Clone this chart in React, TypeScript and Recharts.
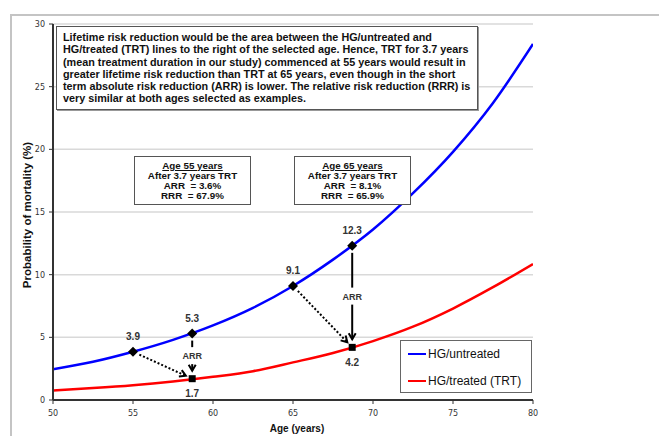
import React from 'react';
import { ComposedChart, Line, Scatter, XAxis, YAxis, CartesianGrid, ReferenceLine } from 'recharts';

const ages = [50, 52.5, 55, 57.5, 60, 62.5, 65, 67.5, 70, 72.5, 75, 77.5, 80];
const untreated = [2.45, 3.05, 3.85, 4.8, 5.95, 7.35, 9.1, 11.2, 13.6, 16.5, 19.8, 23.7, 28.4];
const treated = [0.76, 0.95, 1.18, 1.48, 1.85, 2.3, 3.0, 3.75, 4.7, 5.85, 7.3, 9.0, 10.85];

const untreatedMarkerAges = [55, 58.7, 65, 68.7];
const untreatedMarkerValues = [3.85, 5.3, 9.1, 12.3];
const untreatedMarkerLabels = ['3.9', '5.3', '9.1', '12.3'];
const treatedMarkerAges = [58.7, 68.7];
const treatedMarkerValues = [1.7, 4.2];
const treatedMarkerLabels = ['1.7', '4.2'];

const xTicks = [50, 55, 60, 65, 70, 75, 80];
const yTicks = [0, 5, 10, 15, 20, 25, 30];

const noteLines = [
  'Lifetime risk reduction would be the area between the HG/untreated and',
  'HG/treated (TRT) lines to the right of the selected age. Hence, TRT for 3.7 years',
  '(mean treatment duration in our study) commenced at 55 years would result in',
  'greater lifetime risk reduction than TRT at 65 years, even though in the short',
  'term absolute risk reduction (ARR) is lower. The relative risk reduction (RRR) is',
  'very similar at both ages selected as examples.',
];
const box55 = ['Age 55 years', 'After 3.7 years TRT', 'ARR  = 3.6%', 'RRR  = 67.9%'];
const box65 = ['Age 65 years', 'After 3.7 years TRT', 'ARR  = 8.1%', 'RRR  = 65.9%'];

const seriesNames = ['HG/untreated', 'HG/treated (TRT)'];
const seriesColors = ['#0000ff', '#ff0000'];

const tableData = ages.map((a, i) => ({ age: a, untreated: untreated[i], treated: treated[i] }));
const uMarkers = untreatedMarkerAges.map((a, i) => ({ age: a, v: untreatedMarkerValues[i], label: untreatedMarkerLabels[i] }));
const tMarkers = treatedMarkerAges.map((a, i) => ({ age: a, v: treatedMarkerValues[i], label: treatedMarkerLabels[i] }));

const LABEL_FONT = 'Liberation Sans, Arial, sans-serif';

const Diamond = (props: any) => {
  const { cx, cy, payload } = props;
  if (cx == null || cy == null) return null;
  const r = 5;
  return (
    <g>
      <polygon points={`${cx},${cy - r} ${cx + r},${cy} ${cx},${cy + r} ${cx - r},${cy}`} fill="#000" />
      <text x={cx} y={cy - 15} textAnchor="middle" dominantBaseline="central" fontSize={10} fontWeight="bold" fill="#333" fontFamily={LABEL_FONT}>
        {payload.label}
      </text>
    </g>
  );
};

const Square = (props: any) => {
  const { cx, cy, payload } = props;
  if (cx == null || cy == null) return null;
  const r = 3.5;
  return (
    <g>
      <rect x={cx - r} y={cy - r} width={2 * r} height={2 * r} fill="#000" />
      <text x={cx} y={cy + 15} textAnchor="middle" dominantBaseline="central" fontSize={10} fontWeight="bold" fill="#333" fontFamily={LABEL_FONT}>
        {payload.label}
      </text>
    </g>
  );
};

const chevron = (tx: number, ty: number, ux: number, uy: number, len: number, key: string) => {
  const ang = Math.PI / 6;
  const bx = -ux, by = -uy;
  const c = Math.cos(ang), s = Math.sin(ang);
  const ax1 = tx + len * (bx * c - by * s);
  const ay1 = ty + len * (bx * s + by * c);
  const ax2 = tx + len * (bx * c + by * s);
  const ay2 = ty + len * (-bx * s + by * c);
  return <path key={key} d={`M${ax1},${ay1} L${tx},${ty} L${ax2},${ay2}`} fill="none" stroke="#000" strokeWidth={2} />;
};

const dottedArrow = (props: any) => {
  const { x1, y1, x2, y2 } = props;
  const dx = x2 - x1, dy = y2 - y1;
  const L = Math.sqrt(dx * dx + dy * dy);
  const ux = dx / L, uy = dy / L;
  const sx = x1 + ux * 7, sy = y1 + uy * 7;
  const tx = x2 - ux * 7, ty = y2 - uy * 7;
  return (
    <g>
      <line x1={sx} y1={sy} x2={tx} y2={ty} stroke="#000" strokeWidth={2} strokeDasharray="2 2" />
      {chevron(tx, ty, ux, uy, 7, 'c')}
    </g>
  );
};

const arrArrow = (props: any) => {
  const { x1, y1, x2, y2 } = props;
  const mid = (y1 + y2) / 2;
  const top = Math.min(y1, y2), bot = Math.max(y1, y2);
  const tipY = bot - 8;
  return (
    <g>
      <line x1={x1} y1={top + 7} x2={x1} y2={mid - 9} stroke="#000" strokeWidth={2} />
      <line x1={x1} y1={mid + 8} x2={x1} y2={tipY} stroke="#000" strokeWidth={2} />
      {chevron(x1, tipY, 0, 1, 7, 'c')}
      <text x={x1} y={mid} textAnchor="middle" dominantBaseline="central" fontSize={9} fontWeight="bold" fill="#333" fontFamily={LABEL_FONT}>
        ARR
      </text>
    </g>
  );
};

const boxStyle: React.CSSProperties = {
  position: 'absolute',
  background: '#fff',
  border: '1px solid #555',
  boxSizing: 'border-box',
  fontFamily: LABEL_FONT,
  fontWeight: 'bold',
  color: '#111',
};

export default function App() {
  return (
    <div style={{ position: 'absolute', left: 0, top: 0, width: 659, height: 436, background: '#fff', fontFamily: LABEL_FONT, overflow: 'hidden' }}>
      <div style={{ position: 'absolute', left: 10, top: 14, width: 700, height: 500, borderLeft: '2px solid #c4c4c4', borderTop: '2px solid #c4c4c4' }} />
      <div style={{ position: 'absolute', left: 0, top: 0 }}>
        <ComposedChart width={659} height={436} data={tableData} margin={{ top: 24, right: 126, bottom: 6, left: 0 }}>
          <CartesianGrid horizontal vertical={false} stroke="#d9d9d9" strokeWidth={1.5} />
          <XAxis
            type="number"
            dataKey="age"
            domain={[50, 80]}
            ticks={xTicks}
            height={30}
            tickSize={4}
            tickMargin={6}
            axisLine={{ stroke: '#333', strokeWidth: 2 }}
            tickLine={{ stroke: '#333' }}
            tick={{ fontSize: 8, fill: '#333', fontFamily: 'DejaVu Sans' }}
            allowDataOverflow
          />
          <YAxis
            type="number"
            domain={[0, 30]}
            ticks={yTicks}
            width={53}
            tickSize={4}
            tickMargin={4}
            axisLine={{ stroke: '#333', strokeWidth: 2 }}
            tickLine={{ stroke: '#333' }}
            tick={{ fontSize: 8, fill: '#333', fontFamily: 'DejaVu Sans' }}
            allowDataOverflow
          />
          <Line type="monotone" dataKey="untreated" stroke={seriesColors[0]} strokeWidth={2.5} dot={false} activeDot={false} isAnimationActive={false} />
          <Line type="monotone" dataKey="treated" stroke={seriesColors[1]} strokeWidth={2.5} dot={false} activeDot={false} isAnimationActive={false} />
          <ReferenceLine segment={[{ x: untreatedMarkerAges[0], y: untreatedMarkerValues[0] }, { x: treatedMarkerAges[0], y: treatedMarkerValues[0] }]} shape={dottedArrow} />
          <ReferenceLine segment={[{ x: untreatedMarkerAges[2], y: untreatedMarkerValues[2] }, { x: treatedMarkerAges[1], y: treatedMarkerValues[1] }]} shape={dottedArrow} />
          <ReferenceLine segment={[{ x: untreatedMarkerAges[1], y: untreatedMarkerValues[1] }, { x: treatedMarkerAges[0], y: treatedMarkerValues[0] }]} shape={arrArrow} />
          <ReferenceLine segment={[{ x: untreatedMarkerAges[3], y: untreatedMarkerValues[3] }, { x: treatedMarkerAges[1], y: treatedMarkerValues[1] }]} shape={arrArrow} />
          <Scatter data={uMarkers} dataKey="v" shape={Diamond} isAnimationActive={false} />
          <Scatter data={tMarkers} dataKey="v" shape={Square} isAnimationActive={false} />
        </ComposedChart>
      </div>

      <div style={{ position: 'absolute', left: 27, top: 215, transform: 'translate(-50%, -50%) rotate(-90deg)', whiteSpace: 'nowrap', fontSize: 11.5, fontWeight: 'bold', color: '#111' }}>
        Probability of mortality (%)
      </div>
      <div style={{ position: 'absolute', left: 297, top: 428, transform: 'translate(-50%, -50%)', whiteSpace: 'nowrap', fontSize: 10, fontWeight: 'bold', color: '#111' }}>
        Age (years)
      </div>

      <div style={{ ...boxStyle, left: 56, top: 26, width: 422, height: 84, padding: '4px 0 0 6px', fontSize: 10.8, lineHeight: '12.3px', boxShadow: '1px 1px 0 #999', borderWidth: 1.5 }}>
        {noteLines.map((l, i) => (
          <div key={i} style={{ whiteSpace: 'nowrap' }}>{l}</div>
        ))}
      </div>

      {[{ lines: box55, left: 134 }, { lines: box65, left: 294 }].map((b, j) => (
        <div key={j} style={{ ...boxStyle, left: b.left, top: 156, width: 117, height: 49, paddingTop: 4, fontSize: 9.8, lineHeight: '10px', textAlign: 'center' }}>
          {b.lines.map((l, i) => (
            <div key={i} style={{ whiteSpace: 'pre', textDecoration: i === 0 ? 'underline' : 'none' }}>{l}</div>
          ))}
        </div>
      ))}

      <div style={{ ...boxStyle, fontWeight: 'normal', left: 400, top: 340, width: 132, height: 53, border: '1px solid #666' }}>
        {seriesNames.map((n, i) => (
          <div key={i} style={{ position: 'absolute', left: 7, top: 6 + i * 27, height: 14, display: 'flex', alignItems: 'center', fontSize: 12, color: '#111' }}>
            <div style={{ width: 18, height: 2.5, background: seriesColors[i], marginRight: 2 }} />
            <span style={{ whiteSpace: 'nowrap' }}>{n}</span>
          </div>
        ))}
      </div>
    </div>
  );
}
